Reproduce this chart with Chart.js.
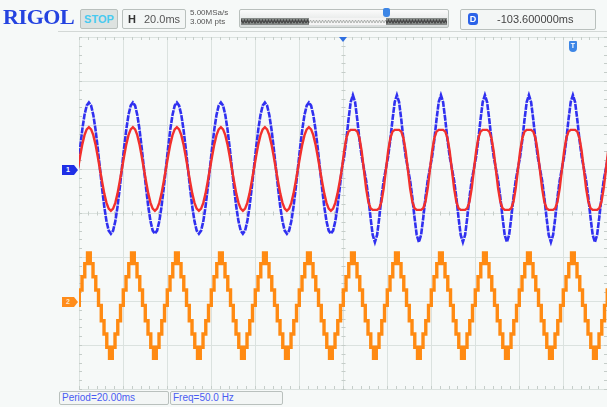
<!DOCTYPE html>
<html>
<head>
<meta charset="utf-8">
<script src="https://cdn.jsdelivr.net/npm/chart.js@4.4.1/dist/chart.umd.min.js"></script>
<style>
  body { margin: 0; background: #f6f9f8; font-family: "Liberation Sans", Arial, sans-serif; }
  #wrap { position: relative; width: 607px; height: 407px; overflow: hidden; }
  #scope { position: absolute; left: 0; top: 0; }
  .ov { position: absolute; box-sizing: border-box; white-space: nowrap; }
  .box { border: 1px solid #b9c0bd; border-radius: 2px; background: #f3f6f5; }
</style>
</head>
<body>
<div id="wrap">
  <canvas id="scope" width="607" height="407"></canvas>

  <!-- header -->
  <div class="ov" style="left:3px;top:4px;font:bold 22px 'Liberation Serif',serif;color:#2443e0;letter-spacing:-0.4px">RIGOL</div>
  <div class="ov box" style="left:80px;top:9px;width:38px;height:20px;background:#dde2e0;color:#48caf0;font-weight:bold;font-size:11px;line-height:18px;text-align:center">STOP</div>
  <div class="ov box" style="left:122px;top:9px;width:64px;height:20px;font-size:11px;line-height:18px">
    <span style="position:absolute;left:5px;font-weight:bold;color:#333">H</span>
    <span style="position:absolute;left:21px;color:#555">20.0ms</span>
  </div>
  <div class="ov" style="left:190px;top:8px;font-size:8px;line-height:9px;color:#555">5.00MSa/s<br>3.00M pts</div>
  <div class="ov box" style="left:239px;top:9px;width:210px;height:19px;background:linear-gradient(#fbfbfb,#d8dcdb)">
    <svg width="208" height="17" style="position:absolute;left:0;top:0">
      <defs>
        <pattern id="zz" width="6" height="17" patternUnits="userSpaceOnUse">
          <polyline points="0,13 1.5,10 3,13 4.5,10 6,13" fill="none" stroke="#444" stroke-width="1.2"/>
        </pattern>
        <pattern id="zzl" width="6" height="17" patternUnits="userSpaceOnUse">
          <polyline points="0,13 1.5,10 3,13 4.5,10 6,13" fill="none" stroke="#9a9e9c" stroke-width="0.8"/>
        </pattern>
      </defs>
      <rect x="1" y="8" width="68" height="7" fill="#868a88"/>
      <rect x="1" y="8" width="68" height="7" fill="url(#zz)"/>
      <rect x="69" y="8" width="77" height="7" fill="#f4f4f4"/>
      <rect x="69" y="8" width="77" height="7" fill="url(#zzl)"/>
      <rect x="146" y="8" width="61" height="7" fill="#868a88"/>
      <rect x="146" y="8" width="61" height="7" fill="url(#zz)"/>
    </svg>
  </div>
  <div class="ov" style="left:383px;top:8px;width:7px;height:9px;background:#3d86e6;border-radius:2px 2px 3px 3px"></div>
  <div class="ov box" style="left:460px;top:9px;width:136px;height:21px;font-size:11px;line-height:19px">
    <span style="position:absolute;left:7px;top:3px;width:10px;height:12px;background:#2c63e8;border-radius:3px;color:#fff;font-weight:bold;font-size:9px;line-height:12px;text-align:center">D</span>
    <span style="position:absolute;left:36px;color:#444">-103.600000ms</span>
  </div>
  <div class="ov" style="left:58px;top:31px;width:549px;height:1px;background:#d3d8d6"></div>

  <!-- screen markers -->
  <div class="ov" style="left:339px;top:37px;width:0;height:0;border-left:4px solid transparent;border-right:4px solid transparent;border-top:5px solid #2f6fe0"></div>
  <div class="ov" style="left:569px;top:41px;width:8px;height:11px;background:#3d86e6;border-radius:1px 1px 4px 4px;color:#fff;font-size:7px;font-weight:bold;line-height:10px;text-align:center">T</div>
  <div class="ov" style="left:62px;top:165px;width:16px;height:10px;background:#1f2fe6;clip-path:polygon(0 0,75% 0,100% 50%,75% 100%,0 100%);color:#fff;font-size:7px;font-weight:bold;line-height:10px;padding-left:4px">1</div>
  <div class="ov" style="left:62px;top:297px;width:16px;height:10px;background:#ff8c1a;clip-path:polygon(0 0,75% 0,100% 50%,75% 100%,0 100%);color:#ffe6c8;font-size:7px;font-weight:bold;line-height:10px;padding-left:4px">2</div>

  <!-- footer -->
  <div class="ov box" style="left:59px;top:391px;width:110px;height:14px;font-size:10px;line-height:12px;color:#4a5cf2;padding-left:2px">Period=20.00ms</div>
  <div class="ov box" style="left:170px;top:391px;width:113px;height:14px;font-size:10px;line-height:12px;color:#4a5cf2;padding-left:2px">Freq=50.0 Hz</div>
</div>

<script>
// Screen: 12 horizontal divisions of 20 ms, 8 vertical divisions
const timeDivs = 12;
const msPerDiv = 20;
const voltDivs = 8;
const periodMs = 20;

// One period, starting at a positive peak.
// Values in screen divisions from the bottom edge.
const blueLeft  = [6.51, 6.44, 6.23, 5.90, 5.48, 5.02, 4.56, 4.14, 3.81, 3.60, 3.53, 3.60, 3.81, 4.14, 4.56, 5.02, 5.48, 5.90, 6.23, 6.44];
const redLeft   = [5.95, 5.90, 5.77, 5.56, 5.29, 5.00, 4.71, 4.44, 4.23, 4.10, 4.05, 4.10, 4.23, 4.44, 4.71, 5.00, 5.29, 5.56, 5.77, 5.90];
const blueRight = [6.68, 6.52, 6.12, 5.66, 5.28, 5.01, 4.74, 4.36, 3.90, 3.50, 3.34, 3.50, 3.90, 4.36, 4.74, 5.01, 5.28, 5.66, 6.12, 6.52];
const redRight  = [5.89, 5.89, 5.85, 5.70, 5.40, 4.98, 4.56, 4.26, 4.11, 4.07, 4.07, 4.07, 4.11, 4.26, 4.56, 4.98, 5.40, 5.70, 5.85, 5.89];
// staircase trace: 16 levels per period
const orangeWave = [3.09, 2.85, 2.55, 2.25, 1.90, 1.55, 1.25, 0.95, 0.70, 0.95, 1.25, 1.55, 1.90, 2.25, 2.55, 2.85];

// first peak just left of the screen; waveform shape changes at mid-screen
const firstPeakMs = -15.5;
const shapeChangeMs = 120;

// Build point lists from the per-period readings
function buildTrace(leftShape, rightShape) {
    const pts = [];
    const n = leftShape.length;
    const step = periodMs / n;
    const endMs = timeDivs * msPerDiv + 5;
    for (let k = 0; firstPeakMs + k * step <= endMs; k++) {
        const t = firstPeakMs + k * step;
        const shape = t < shapeChangeMs ? leftShape : rightShape;
        pts.push({ x: t, y: shape[k % n] });
    }
    return pts;
}

// Minor tick marks on the border and the centre cross
const scopeTicks = {
    id: 'scopeTicks',
    beforeDatasetsDraw(chart) {
        const ctx = chart.ctx;
        const xs = chart.scales.x, ys = chart.scales.y;
        const a = chart.chartArea;
        const cy = Math.round(ys.getPixelForValue(voltDivs / 2)) + 0.5;
        const cx = Math.round(xs.getPixelForValue(timeDivs * msPerDiv / 2)) + 0.5;
        ctx.save();
        ctx.strokeStyle = '#c5cdc9';
        ctx.lineWidth = 1;
        ctx.beginPath();
        for (let v = 0; v <= timeDivs * msPerDiv; v += msPerDiv / 5) {
            const px = Math.round(xs.getPixelForValue(v)) + 0.5;
            ctx.moveTo(px, a.top); ctx.lineTo(px, a.top + 3);
            ctx.moveTo(px, a.bottom); ctx.lineTo(px, a.bottom - 3);
            ctx.moveTo(px, cy - 2); ctx.lineTo(px, cy + 2);
        }
        for (let v = 0; v <= voltDivs + 0.01; v += 0.2) {
            const py = Math.round(ys.getPixelForValue(v)) + 0.5;
            ctx.moveTo(a.left, py); ctx.lineTo(a.left + 3, py);
            ctx.moveTo(a.right, py); ctx.lineTo(a.right - 3, py);
            ctx.moveTo(cx - 2, py); ctx.lineTo(cx + 2, py);
        }
        ctx.stroke();
        ctx.restore();
    }
};

const chart = new Chart(document.getElementById('scope'), {
    type: 'line',
    data: {
        datasets: [
            {
                label: 'CH1 math',
                data: buildTrace(redLeft, redRight),
                borderColor: '#f2302c',
                borderWidth: 2.4,
                pointRadius: 0,
                tension: 0,
                order: 0
            },
            {
                label: 'CH1',
                data: buildTrace(blueLeft, blueRight),
                borderColor: '#3030f0',
                borderWidth: 2.6,
                borderDash: [6, 1],
                pointRadius: 0,
                tension: 0,
                order: 1
            },
            {
                label: 'CH2',
                data: buildTrace(orangeWave, orangeWave),
                borderColor: '#ff8a12',
                borderWidth: 3.4,
                pointRadius: 0,
                stepped: 'middle',
                order: 2
            }
        ]
    },
    options: {
        responsive: false,
        animation: false,
        devicePixelRatio: 1,
        layout: { padding: { left: 79, top: 37, right: 0, bottom: 18 } },
        plugins: { legend: { display: false }, tooltip: { enabled: false } },
        scales: {
            x: {
                type: 'linear',
                min: 0,
                max: timeDivs * msPerDiv,
                ticks: { display: false, stepSize: msPerDiv },
                grid: { color: '#dbe2df', drawTicks: false },
                border: { display: false }
            },
            y: {
                min: 0,
                max: voltDivs,
                ticks: { display: false, stepSize: 1 },
                grid: { color: '#dbe2df', drawTicks: false },
                border: { display: false }
            }
        }
    },
    plugins: [scopeTicks]
});
</script>
</body>
</html>
